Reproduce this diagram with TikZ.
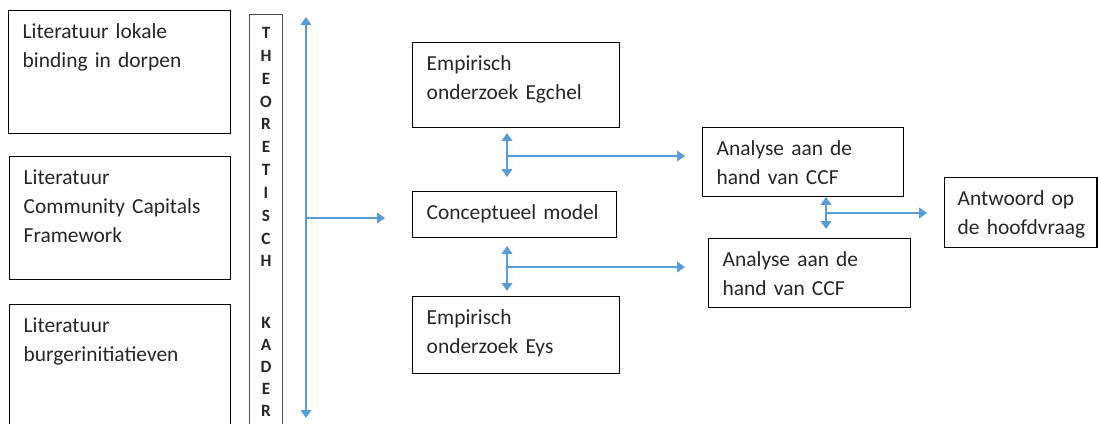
\documentclass[tikz,border=0pt]{standalone}
\usepackage{fontspec}
\setmainfont{Carlito}
\usetikzlibrary{arrows.meta}
\definecolor{pijlblauw}{RGB}{91,155,213}

\begin{document}
\begin{tikzpicture}[x=0.02cm, y=-0.02cm]
% Box style
\tikzset{
    blok/.style={draw, line width=0.8pt, anchor=north west, align=left,
        inner xsep=0.28cm, inner ysep=0.16cm, text height=0.4cm,
        font=\fontsize{12.2}{16.5}\selectfont, text=black!85},
    kolom/.style={draw=black!70, line width=0.6pt, anchor=north west, align=center,
        inner xsep=0.04cm, inner ysep=0.16cm, text width=0.58cm, text height=0.32cm,
        font=\fontsize{9.8}{13}\selectfont\bfseries, text=black!85},
    pijl/.style={draw=pijlblauw, line width=0.9pt, -{Triangle[width=6pt,length=4.5pt]}},
    dubbelpijl/.style={draw=pijlblauw, line width=0.9pt,
        {Triangle[width=6pt,length=4.5pt]}-{Triangle[width=6pt,length=4.5pt]}}
}

\useasboundingbox (0,0) rectangle (1098,423);

% Nodes
\node[blok, text width=3.88cm, text depth=1.74cm] (LIT1) at (8,10) {Literatuur lokale\\binding in dorpen};
\node[blok, text width=3.86cm, text depth=1.74cm] (LIT2) at (9,156) {Literatuur\\Community Capitals\\Framework};
\node[blok, text width=3.86cm, text depth=1.72cm] (LIT3) at (9,304) {Literatuur\\burgerinitiatieven};
\node[kolom, text depth=7.7cm] (KADER) at (249,14)
    {T\\H\\E\\O\\R\\E\\T\\I\\S\\C\\H\\[22.3pt]K\\[-0.6pt]A\\[-0.6pt]D\\[-0.6pt]E\\[-0.6pt]R};

\node[blok, text width=3.58cm, text depth=0.98cm] (EGCHEL) at (412,42) {Empirisch\\onderzoek Egchel};
\node[blok, text width=3.52cm, text depth=0.2cm] (MODEL) at (412,191) {Conceptueel model};
\node[blok, text width=3.58cm, text depth=0.82cm] (EYS) at (412,296) {Empirisch\\onderzoek Eys};

\node[blok, text width=3.46cm, text depth=0.66cm] (CCF1) at (702,127) {Analyse aan de\\hand van CCF};
\node[blok, text width=3.48cm, text depth=0.66cm] (CCF2) at (708,238) {Analyse aan de\\hand van CCF};
\node[blok, inner xsep=0.26cm, text width=2.53cm, text depth=0.68cm] (ANTWOORD) at (944,177)
    {Antwoord op\\\mbox{de hoofdvraag}};

\coordinate (KT) at (306,17);
\coordinate (KB) at (306,418);
\coordinate (KM) at (306,218);
\coordinate (E1) at (507,133);
\coordinate (E2) at (507,177);
\coordinate (EM) at (507,156);
\coordinate (Y1) at (507,246);
\coordinate (Y2) at (507,291);
\coordinate (YM) at (507,267);
\coordinate (A1) at (826,197);
\coordinate (A2) at (826,229);
\coordinate (AM) at (826,213);

% Connections
\draw[dubbelpijl] (KT) -- (KB);
\draw[pijl, shorten >=0.54cm] (KM) -- (KM -| MODEL.west);

\draw[dubbelpijl] (E1) -- (E2);
\draw[pijl, shorten >=0.34cm] (EM) -- (EM -| CCF1.west);
\draw[dubbelpijl] (Y1) -- (Y2);
\draw[pijl, shorten >=0.46cm] (YM) -- (YM -| CCF2.west);

\draw[dubbelpijl] (A1) -- (A2);
\draw[pijl, shorten >=0.34cm] (AM) -- (AM -| ANTWOORD.west);
\end{tikzpicture}
\end{document}
